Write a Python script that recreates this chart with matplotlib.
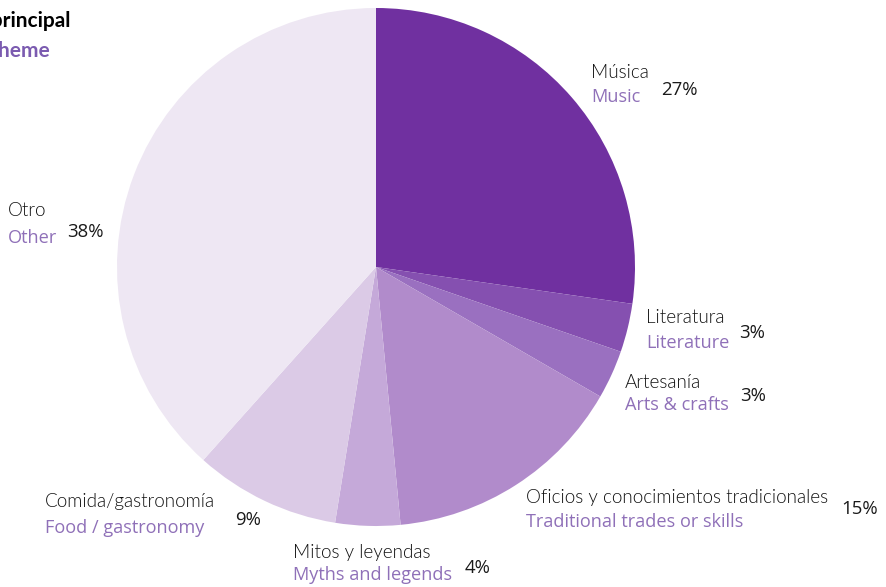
import matplotlib
matplotlib.use("Agg")
import matplotlib.pyplot as plt

# main theme shares (%), clockwise from 12 o'clock
temas = ["Música", "Literatura", "Artesanía", "Oficios y conocimientos tradicionales",
         "Mitos y leyendas", "Comida/gastronomía", "Otro"]
themes = ["Music", "Literature", "Arts & crafts", "Traditional trades or skills",
          "Myths and legends", "Food / gastronomy", "Other"]
pcts = [27, 3, 3, 15, 4, 9, 38]

colores = ["#7030A0", "#8550B0", "#9A70C0", "#B18BCB", "#C5A9D9", "#DBCAE6", "#EEE7F3"]

W, H = 887, 587
fig = plt.figure(figsize=(W / 100, H / 100), dpi=100)
ax = fig.add_axes([0, 0, 1, 1])

ax.pie(pcts, colors=colores, startangle=90, counterclock=False,
       center=(376, H - 267), radius=259, frame=True,
       wedgeprops=dict(linewidth=0))
ax.set_xlim(0, W)
ax.set_ylim(0, H)
ax.set_aspect("equal")
ax.axis("off")

es_font = dict(family="Lato", fontsize=13.6, fontweight=300, color="#111111")
en_font = dict(family="Open Sans", fontsize=13.1, color="#8F70B8")
pc_font = dict(family="Open Sans", fontsize=13.4, color="#1a1a1a")

# label anchors: (x, baseline es, baseline en, x pct, baseline pct) in pixels from top-left
pos = [
    (591, 78, 102, 661, 95),
    (646, 323, 348, 739, 338),
    (625, 388, 410, 740, 401),
    (526, 503, 527, 841, 514),
    (293, 558, 580, 465, 573),
    (45, 507, 533, 235, 525),
    (8, 216, 243, 67, 237),
]
for t, e, p, (x, y1, y2, xp, yp) in zip(temas, themes, pcts, pos):
    ax.text(x, H - y1, t, va="baseline", ha="left", **es_font)
    ax.text(x, H - y2, e, va="baseline", ha="left", **en_font)
    ax.text(xp, H - yp, f"{p}%", va="baseline", ha="left", **pc_font)

# title, partly running off the left edge
ax.text(71, H - 27, "Tema principal", va="baseline", ha="right",
        family="Lato", fontsize=15, fontweight="bold", color="black")
ax.text(50, H - 57, "Main theme", va="baseline", ha="right",
        family="Lato", fontsize=15, fontweight="bold", color="#7B5BB0")

fig.savefig("out.png", dpi=100)
